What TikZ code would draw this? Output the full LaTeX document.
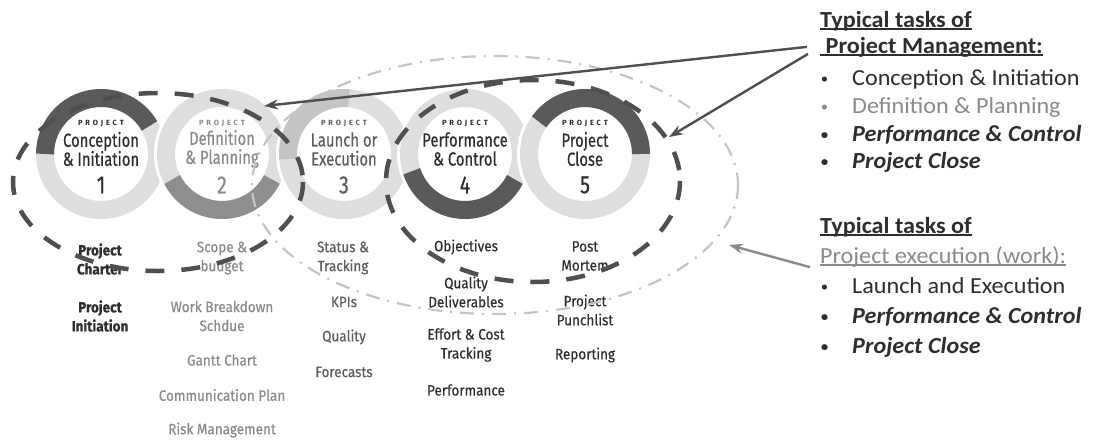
\documentclass[tikz,border=0pt]{standalone}
\usepackage{fontspec}
\setmainfont{Carlito}[FakeStretch=1.05]
\newfontfamily\phasefont{Fira Sans}[FakeStretch=0.78, FakeBold=0.5]
\newfontfamily\itemfont{Fira Sans}[FakeStretch=0.9, FakeBold=0.35]
\newfontfamily\tagfont{Fira Sans}[LetterSpace=38]
\usetikzlibrary{arrows.meta}

\definecolor{ringdark}{HTML}{5A5A5A}
\definecolor{ringmid}{HTML}{8E8E8E}
\definecolor{ringsoft}{HTML}{C4C4C4}
\definecolor{ringlight}{HTML}{DEDEDE}
\definecolor{inkdark}{HTML}{2E2E2E}
\definecolor{inkmid}{HTML}{5E5E5E}
\definecolor{inklight}{HTML}{8A8A8A}
\definecolor{dashgray}{HTML}{4F4F4F}
\definecolor{dotgray}{HTML}{C4C4C4}

\newsavebox{\ulbox}
\newcommand{\wordul}[1]{\sbox{\ulbox}{#1}\rlap{\rule[-2.5pt]{\wd\ulbox}{1.6pt}}\usebox{\ulbox}}
\newcommand{\dotmark}{\llap{\raisebox{2pt}{\fontsize{14}{14}\selectfont\textbullet}\hspace{24pt}}}

\begin{document}
\begin{tikzpicture}[x=1pt, y=-1pt,
    ring/.style={line width=18pt},
    tag/.style={font=\tagfont\bfseries\fontsize{7.5}{7.5}\selectfont},
    phase/.style={font=\phasefont\fontsize{19}{19}\selectfont, align=center, inner sep=0pt},
    num/.style={font=\phasefont\fontsize{25}{25}\selectfont, inner sep=0pt},
    item/.style={font=\itemfont\fontsize{15}{19}\selectfont, align=center, inner sep=0pt},
    bolditem/.style={item, font=\itemfont\bfseries\fontsize{15}{19}\selectfont},
    head/.style={anchor=base west, inner sep=0pt, font=\bfseries\fontsize{23}{23}\selectfont},
    task/.style={anchor=base west, inner sep=0pt, font=\fontsize{23}{23}\selectfont},
    keytask/.style={task, font=\bfseries\itshape\fontsize{23}{23}\selectfont},
    bigdash/.style={dashgray, line width=4.5pt, dash pattern=on 19pt off 17pt},
    dashdot/.style={dotgray, line width=2.2pt, dash pattern=on 14pt off 8pt on 2pt off 8pt},
    pointer/.style={-{Stealth[length=14pt,width=10pt]}, line width=2.4pt}]
  \useasboundingbox (0,0) rectangle (1096,440);
  \fill[white] (0,0) rectangle (1096,440);

  % phase rings
  \foreach \cx/\from/\to/\col in {101/-180/-30/ringdark, 222/153/27/ringmid, 344/-85/-185/ringsoft, 465/162/27/ringdark, 585/-145/0/ringdark} {
    \fill[white] (\cx,154) circle (68);
    \draw[ring, ringlight] (\cx,154) circle (56);
    \draw[ring, \col] (\cx,154) ++(\from:56) arc[start angle=\from, end angle=\to, radius=56];
  }

  % phase labels
  \foreach \cx/\i/\ttl/\col in {101/1/{Conception\\\& Initiation}/inkdark, 222/2/{Definition\\\& Planning}/inklight, 344/3/{Launch or\\Execution}/inkmid, 465/4/{Performance\\\& Control}/inkdark, 585/5/{Project\\Close}/inkdark} {
    \node[tag, \col] (tag\i) at (\cx,123) {PROJECT};
    \node[phase, \col] (ph\i) at (\cx,149) {\ttl};
    \node[num, \col] (nr\i) at (\cx,185) {\i};
  }

  % tasks below the rings
  \node[bolditem, inkdark] (charter) at (100,259) {Project\\Charter};
  \node[bolditem, inkdark] (initiation) at (100,316) {Project\\Initiation};
  \node[item, inklight] (scope) at (222,258) {Scope \&\\budget};
  \node[item, inklight] (wbs) at (222,316) {Work Breakdown\\Schdue};
  \node[item, inklight] (gantt) at (222,360) {Gantt Chart};
  \node[item, inklight] (comms) at (222,395) {Communication Plan};
  \node[item, inklight] (risk) at (222,430) {Risk Management};
  \node[item, inkmid] (status) at (343,258) {Status \&\\Tracking};
  \node[item, inkmid] (kpis) at (344,302) {KPIs};
  \node[item, inkmid] (quality) at (344,337) {Quality};
  \node[item, inkmid] (forecasts) at (344,372) {Forecasts};
  \node[item, inkdark] (objectives) at (466,247) {Objectives};
  \node[item, inkdark] (deliverables) at (466,292) {Quality\\Deliverables};
  \node[item, inkdark] (effort) at (466,345) {Effort \& Cost\\Tracking};
  \node[item, inkdark] (performance) at (466,390) {Performance};
  \node[item, inkdark] (mortem) at (585,256) {Post\\Mortem};
  \node[item, inkdark] (punchlist) at (585,310) {Project\\Punchlist};
  \node[item, inkdark] (reporting) at (585,355) {Reporting};

  % groupings
  \draw[dashdot] (495,185) ellipse [x radius=243, y radius=129];
  \draw[bigdash] (158,182) ellipse [x radius=145, y radius=89];
  \draw[bigdash] (533,181) ellipse [x radius=147, y radius=101];

  % project management tasks
  \node[head, inkdark] (pmtitle) at (820,27) {\wordul{Typical tasks of}};
  \node[head, inkdark] (pmhead) at (820,53) {\wordul{\ Project Management:}};
  \node[task, inkdark] (pm1) at (852,85) {\dotmark Conception \& Initiation};
  \node[task, inklight] (pm2) at (852,113) {\dotmark Definition \& Planning};
  \node[keytask, inkdark] (pm3) at (852,141) {\dotmark Performance \& Control};
  \node[keytask, inkdark] (pm4) at (852,168) {\dotmark Project Close};

  % project execution tasks
  \node[head, inkdark] (extitle) at (820,233) {\wordul{Typical tasks of}};
  \node[task, inklight] (exhead) at (820,263) {\wordul{Project execution (work):}};
  \node[task, inkdark] (ex1) at (852,293) {\dotmark Launch and Execution};
  \node[keytask, inkdark] (ex2) at (852,323) {\dotmark Performance \& Control};
  \node[keytask, inkdark] (ex3) at (852,353) {\dotmark Project Close};

  % pointers
  \coordinate (tipdef) at (264,106);
  \coordinate (tipclose) at (669,137);
  \coordinate (tipwork) at (729,245);
  \draw[pointer, dashgray] ([xshift=-13pt]pmhead.west) -- (tipdef);
  \draw[pointer, dashgray] ([xshift=-12pt, yshift=-7pt]pmhead.west) -- (tipclose);
  \draw[pointer, inklight] ([xshift=-10pt]exhead.south west) -- (tipwork);
\end{tikzpicture}
\end{document}
